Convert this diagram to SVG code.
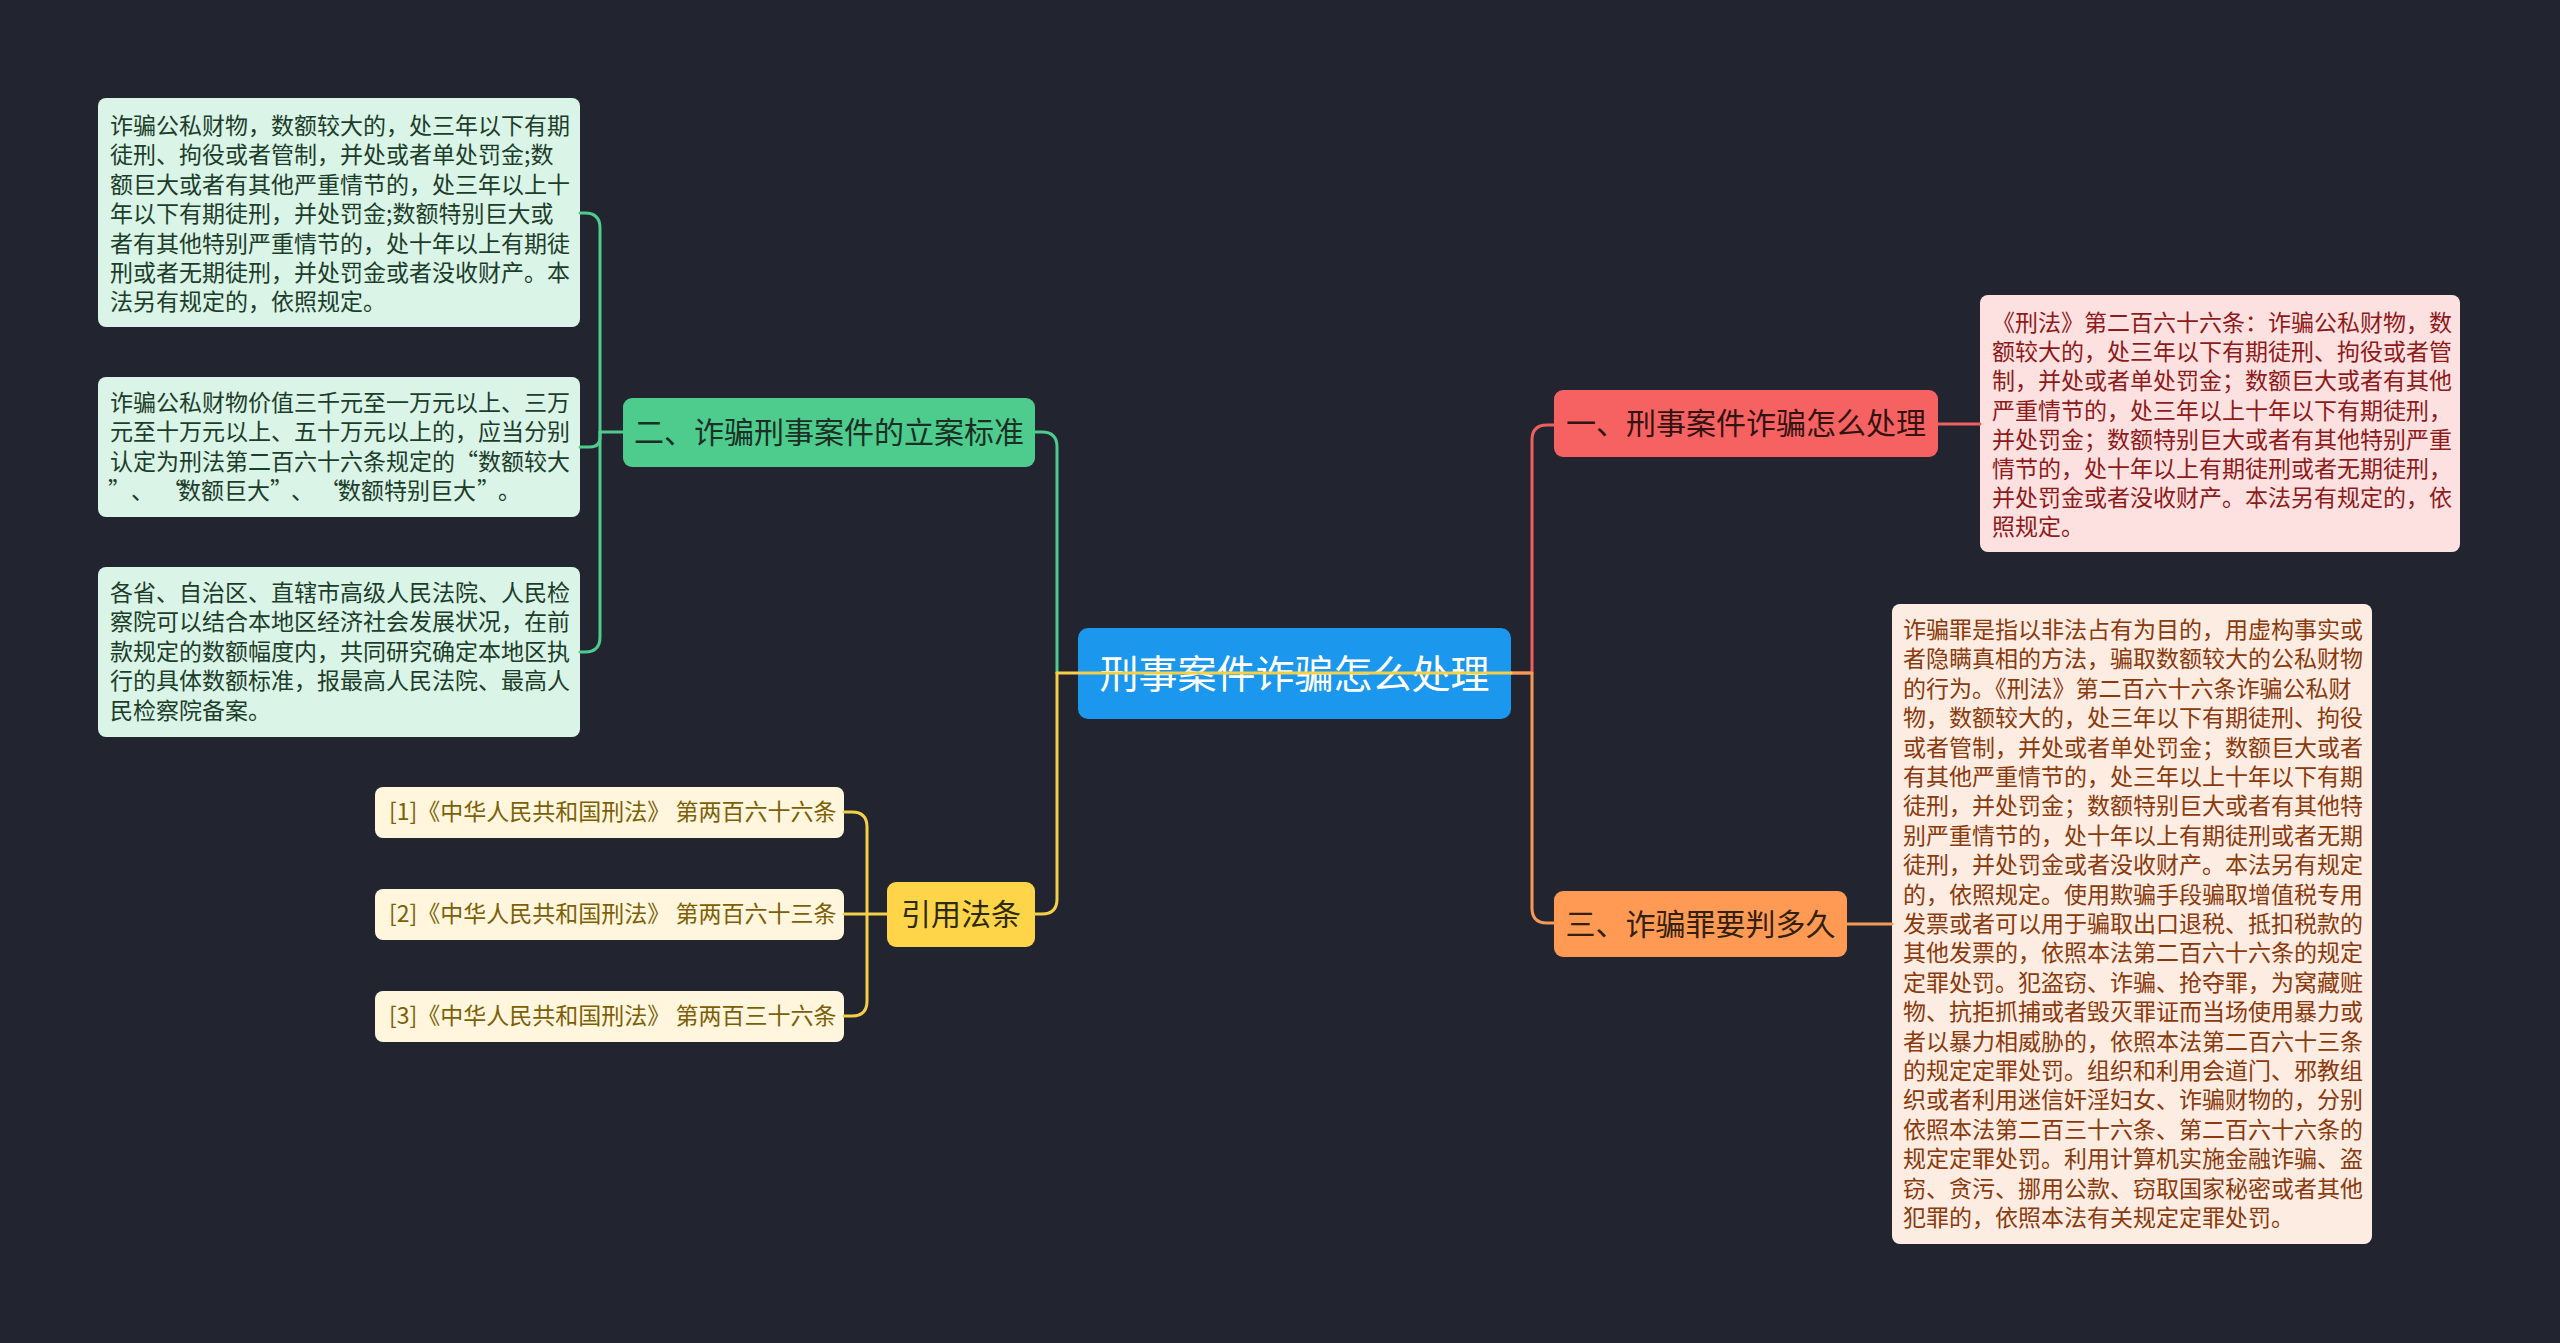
<svg xmlns="http://www.w3.org/2000/svg" width="2560" height="1343" viewBox="0 0 2560 1343">
<style>
text{font-family:"Noto Sans CJK SC","Noto Sans",sans-serif;}
.leaf{font-size:23px;}
.lg{fill:#1d3d2b;}
.lr{fill:#8e1a1a;}
.lo{fill:#8a3a0c;}
.ly{fill:#7d5f06;}
.br{font-size:30px;text-anchor:middle;}
.cg,.cy,.cr,.co{fill:none;stroke-width:3;stroke-linecap:round;stroke-linejoin:round;}
.cg{stroke:#4ecb8e;}
.cy{stroke:#f4cf48;}
.cr{stroke:#f05f5f;}
.co{stroke:#f79a55;}
</style>
<rect x="0" y="0" width="2560" height="1343" fill="#22252f"/>

<g id="root">
<rect x="1078" y="628" width="433" height="91" rx="10" fill="#1b97ee"/>
<text x="1294.5" y="688" font-size="39" text-anchor="middle" fill="#ffffff">刑事案件诈骗怎么处理</text>
</g>

<g id="n-green">
<rect x="623" y="398" width="412" height="69" rx="9" fill="#4dcc8e"/>
<text class="br" x="829" y="443" fill="#1b2f24">二、诈骗刑事案件的立案标准</text>
</g>
<g id="g-leaf1">
<rect x="98" y="98" width="482" height="229" rx="8" fill="#daf4e7"/>
<text class="leaf lg" x="110" y="134">
<tspan x="110" y="134">诈骗公私财物，数额较大的，处三年以下有期</tspan>
<tspan x="110" y="163.4">徒刑、拘役或者管制，并处或者单处罚金;数</tspan>
<tspan x="110" y="192.8">额巨大或者有其他严重情节的，处三年以上十</tspan>
<tspan x="110" y="222.2">年以下有期徒刑，并处罚金;数额特别巨大或</tspan>
<tspan x="110" y="251.6">者有其他特别严重情节的，处十年以上有期徒</tspan>
<tspan x="110" y="281">刑或者无期徒刑，并处罚金或者没收财产。本</tspan>
<tspan x="110" y="310.4">法另有规定的，依照规定。</tspan>
</text>
</g>
<g id="g-leaf2">
<rect x="98" y="377" width="482" height="140" rx="8" fill="#daf4e7"/>
<text class="leaf lg">
<tspan x="110" y="411">诈骗公私财物价值三千元至一万元以上、三万</tspan>
<tspan x="110" y="440.4">元至十万元以上、五十万元以上的，应当分别</tspan>
<tspan x="110" y="469.8">认定为刑法第二百六十六条规定的“数额较大</tspan>
<tspan x="108 131 162 178 201 224 247 270 291 320 338 361 384 407 430 453 477 498" y="499.2">”、“数额巨大”、“数额特别巨大”。</tspan>
</text>
</g>
<g id="g-leaf3">
<rect x="98" y="567" width="482" height="170" rx="8" fill="#daf4e7"/>
<text class="leaf lg">
<tspan x="110" y="601">各省、自治区、直辖市高级人民法院、人民检</tspan>
<tspan x="110" y="630.4">察院可以结合本地区经济社会发展状况，在前</tspan>
<tspan x="110" y="659.8">款规定的数额幅度内，共同研究确定本地区执</tspan>
<tspan x="110" y="689.2">行的具体数额标准，报最高人民法院、最高人</tspan>
<tspan x="110" y="718.6">民检察院备案。</tspan>
</text>
</g>

<g id="n-yellow">
<rect x="887" y="882" width="148" height="65" rx="9" fill="#fed549"/>
<text class="br" x="961" y="925" fill="#2e2a10">引用法条</text>
</g>
<g id="y-leaf1">
<rect x="375" y="787" width="469" height="51" rx="8" fill="#fff6dd"/>
<text class="leaf ly" x="389" y="820">[1]《中华人民共和国刑法》 第两百六十六条</text>
</g>
<g id="y-leaf2">
<rect x="375" y="889" width="469" height="51" rx="8" fill="#fff6dd"/>
<text class="leaf ly" x="389" y="922">[2]《中华人民共和国刑法》 第两百六十三条</text>
</g>
<g id="y-leaf3">
<rect x="375" y="991" width="469" height="51" rx="8" fill="#fff6dd"/>
<text class="leaf ly" x="389" y="1024">[3]《中华人民共和国刑法》 第两百三十六条</text>
</g>

<g id="n-red">
<rect x="1554" y="390" width="384" height="67" rx="9" fill="#f66262"/>
<text class="br" x="1746" y="434" fill="#331212">一、刑事案件诈骗怎么处理</text>
</g>
<g id="r-leaf">
<rect x="1980" y="295" width="480" height="257" rx="8" fill="#fde1e1"/>
<text class="leaf lr">
<tspan x="1992" y="331">《刑法》第二百六十六条：诈骗公私财物，数</tspan>
<tspan x="1992" y="360.2">额较大的，处三年以下有期徒刑、拘役或者管</tspan>
<tspan x="1992" y="389.4">制，并处或者单处罚金；数额巨大或者有其他</tspan>
<tspan x="1992" y="418.6">严重情节的，处三年以上十年以下有期徒刑，</tspan>
<tspan x="1992" y="447.8">并处罚金；数额特别巨大或者有其他特别严重</tspan>
<tspan x="1992" y="477">情节的，处十年以上有期徒刑或者无期徒刑，</tspan>
<tspan x="1992" y="506.2">并处罚金或者没收财产。本法另有规定的，依</tspan>
<tspan x="1992" y="535.4">照规定。</tspan>
</text>
</g>

<g id="n-orange">
<rect x="1554" y="891" width="293" height="66" rx="9" fill="#fe9a53"/>
<text class="br" x="1700.5" y="935" fill="#33200f">三、诈骗罪要判多久</text>
</g>
<g id="o-leaf">
<rect x="1892" y="604" width="480" height="640" rx="8" fill="#fdece2"/>
<text class="leaf lo">
<tspan x="1903" y="638">诈骗罪是指以非法占有为目的，用虚构事实或</tspan>
<tspan x="1903" y="667.4">者隐瞒真相的方法，骗取数额较大的公私财物</tspan>
<tspan x="1903" y="696.8">的行为。《刑法》第二百六十六条诈骗公私财</tspan>
<tspan x="1903" y="726.2">物，数额较大的，处三年以下有期徒刑、拘役</tspan>
<tspan x="1903" y="755.6">或者管制，并处或者单处罚金；数额巨大或者</tspan>
<tspan x="1903" y="785">有其他严重情节的，处三年以上十年以下有期</tspan>
<tspan x="1903" y="814.4">徒刑，并处罚金；数额特别巨大或者有其他特</tspan>
<tspan x="1903" y="843.8">别严重情节的，处十年以上有期徒刑或者无期</tspan>
<tspan x="1903" y="873.2">徒刑，并处罚金或者没收财产。本法另有规定</tspan>
<tspan x="1903" y="902.6">的，依照规定。使用欺骗手段骗取增值税专用</tspan>
<tspan x="1903" y="932">发票或者可以用于骗取出口退税、抵扣税款的</tspan>
<tspan x="1903" y="961.4">其他发票的，依照本法第二百六十六条的规定</tspan>
<tspan x="1903" y="990.8">定罪处罚。犯盗窃、诈骗、抢夺罪，为窝藏赃</tspan>
<tspan x="1903" y="1020.2">物、抗拒抓捕或者毁灭罪证而当场使用暴力或</tspan>
<tspan x="1903" y="1049.6">者以暴力相威胁的，依照本法第二百六十三条</tspan>
<tspan x="1903" y="1079">的规定定罪处罚。组织和利用会道门、邪教组</tspan>
<tspan x="1903" y="1108.4">织或者利用迷信奸淫妇女、诈骗财物的，分别</tspan>
<tspan x="1903" y="1137.8">依照本法第二百三十六条、第二百六十六条的</tspan>
<tspan x="1903" y="1167.2">规定定罪处罚。利用计算机实施金融诈骗、盗</tspan>
<tspan x="1903" y="1196.6">窃、贪污、挪用公款、窃取国家秘密或者其他</tspan>
<tspan x="1903" y="1226">犯罪的，依照本法有关规定定罪处罚。</tspan>
</text>
</g>

<g id="connectors">
<path class="cg" d="M1057,673 V447 Q1057,432 1042,432 H1035"/>
<path class="cy" d="M1057,673 V899 Q1057,914 1042,914 H1035"/>
<path class="cr" d="M1511,673 H1532 V440 Q1532,425 1547,425 H1554"/>
<path class="co" d="M1511,673 H1532 V908 Q1532,923 1547,923 H1554"/>
<path class="cy" d="M1057,673 H1511"/>
<path class="cg" d="M623,432 H600 V228 Q600,213 585,213 H580"/>
<path class="cg" d="M600,432 V437 Q600,447 590,447 H580"/>
<path class="cg" d="M600,432 V637 Q600,652 585,652 H580"/>
<path class="cy" d="M887,914 H867 V827 Q867,812 852,812 H844"/>
<path class="cy" d="M867,914 H844"/>
<path class="cy" d="M867,914 V1001 Q867,1016 852,1016 H844"/>
<path class="cr" d="M1938,424 H1980"/>
<path class="co" d="M1847,924 H1892"/>
</g>
</svg>
